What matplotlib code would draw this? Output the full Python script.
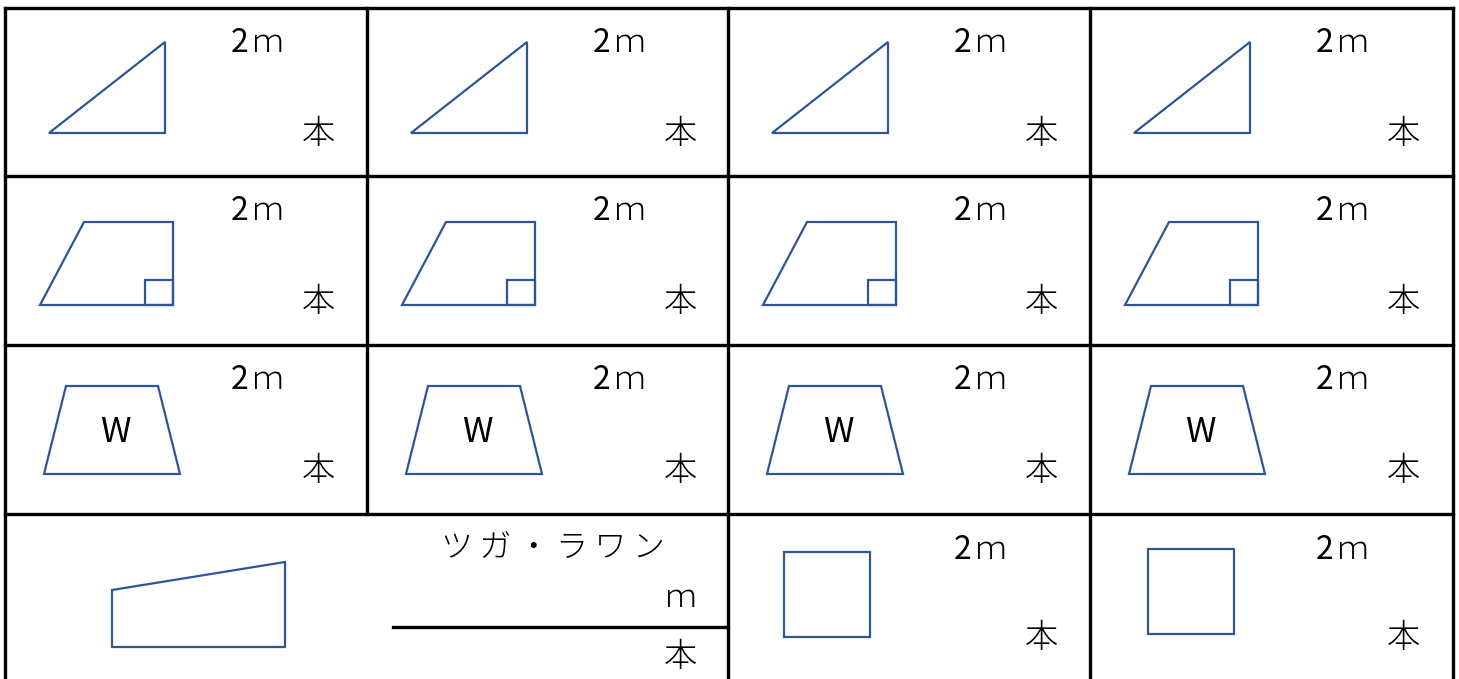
import matplotlib
matplotlib.use("Agg")
import matplotlib.pyplot as plt
from matplotlib.patches import Polygon

plt.rcParams['font.family'] = ['Noto Sans CJK JP', 'DejaVu Sans']

# grid (pixel coords of the sheet)
col_x = [5, 367, 728, 1090, 1453]
row_y = [8, 176, 345, 514, 679]

num_text = "2"
unit_text = "ｍ"
count_text = "本"
wood_text = "ツガ・ラワン"
width_text = "W"

# shapes relative to a cell's top-left corner
triangle = [(44, 125), (160, 125), (160, 34)]
trap_right = [(35, 129), (79, 46), (168, 46), (168, 129)]
corner_box = [(140, 104), (168, 104), (168, 129), (140, 129)]
trap_w = [(39, 129), (61, 41), (153, 41), (175, 129)]
slope_box = [(107, 133), (107, 76), (280, 48), (280, 133)]
square_a = [(56, 38), (142, 38), (142, 123), (56, 123)]
square_b = [(58, 35), (144, 35), (144, 120), (58, 120)]

blue = "#2F5597"

fig = plt.figure(figsize=(14.59, 6.79), dpi=100)
ax = fig.add_axes([0, 0, 1, 1])
ax.set_xlim(0, 1459)
ax.set_ylim(679, 0)
ax.axis("off")


def shape(pts, ox, oy):
    ax.add_patch(Polygon([(ox + x, oy + y) for x, y in pts], closed=True,
                         fill=False, edgecolor=blue, lw=1.6))


def length(ox, oy):
    ax.text(ox + 235, oy + 35, num_text, ha="center", va="center", fontsize=fs)
    ax.text(ox + 262, oy + 35, unit_text, ha="center", va="center", fontsize=fs,
            fontweight="light")


def count(x, y):
    ax.text(x, y, count_text, ha="center", va="center", fontsize=24,
            fontweight="light")


# grid lines
lw_grid = 2.4
for y in row_y[:4]:
    ax.plot([col_x[0], col_x[-1]], [y, y], color="k", lw=lw_grid)
ax.plot([col_x[0]] * 2, [row_y[0], row_y[-1]], color="k", lw=lw_grid)
ax.plot([col_x[-1]] * 2, [row_y[0], row_y[-1]], color="k", lw=lw_grid)
ax.plot([col_x[1]] * 2, [row_y[0], row_y[3]], color="k", lw=lw_grid)
for x in col_x[2:4]:
    ax.plot([x, x], [row_y[0], row_y[-1]], color="k", lw=lw_grid)

fs = 23
row_shapes = [[triangle], [trap_right, corner_box], [trap_w]]
for r in range(3):
    oy = row_y[r]
    for c in range(4):
        ox = col_x[c]
        for s in row_shapes[r]:
            shape(s, ox, oy)
        if r == 2:
            ax.text(ox + 110, oy + 88, width_text, ha="center", va="center", fontsize=25)
        length(ox, oy)
        count(ox + 313, oy + 127)

# bottom row
oy = row_y[3]
shape(slope_box, col_x[0], oy)
ax.text(553, oy + 34, "\u2009".join(wood_text), ha="center", va="center", fontsize=fs,
        fontweight="light", family=["Noto Sans CJK JP", "DejaVu Sans"])
ax.text(680, oy + 84, unit_text, ha="center", va="center", fontsize=fs, fontweight="light")
ax.plot([393, col_x[2]], [oy + 113, oy + 113], color="k", lw=lw_grid)
count(680, oy + 144)

for c, sq in zip([2, 3], [square_a, square_b]):
    ox = col_x[c]
    shape(sq, ox, oy)
    length(ox, oy + 1)
    count(ox + 313, oy + 125)

fig.savefig("out.png", dpi=100)
